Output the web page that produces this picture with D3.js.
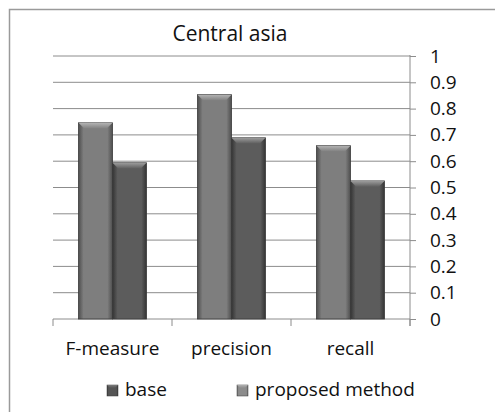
<!DOCTYPE html>
<html>
<head>
<meta charset="utf-8">
<script src="https://cdn.jsdelivr.net/npm/d3@7"></script>
<style>
  body { margin: 0; background: #fff; }
  text { font-family: "Open Sans", sans-serif; fill: #111; }
</style>
</head>
<body>
<div id="chart"></div>
<script>
// chart data
const categories = ["F-measure", "precision", "recall"];
const seriesNames = ["base", "proposed method"];
const baseValues = [0.746, 0.853, 0.659];
const proposedValues = [0.594, 0.689, 0.525];
const tickValues = [0, 0.1, 0.2, 0.3, 0.4, 0.5, 0.6, 0.7, 0.8, 0.9, 1];

const W = 495, H = 412;
const margin = {top: 56, right: 85, bottom: 93, left: 53};
const width = W - margin.left - margin.right;
const height = H - margin.top - margin.bottom;

const svg = d3.select("#chart").append("svg")
    .attr("width", W)
    .attr("height", H);

// gradients for the bevelled bars
const defs = svg.append("defs");
const palette = {
    "base": {edge: "#4e4e4e", mid: "#7e7e7e", top: "#b4b4b4"},
    "proposed method": {edge: "#343434", mid: "#5c5c5c", top: "#9c9c9c"}
};
// legend swatches look the other way round in the picture
const legendPalette = [
    {edge: "#3a3a3a", mid: "#555555", top: "#7a7a7a"},
    {edge: "#6a6a6a", mid: "#8c8c8c", top: "#b0b0b0"}
];
function addGradients(id, c) {
    let gr = defs.append("linearGradient").attr("id", "body" + id)
        .attr("x1", 0).attr("x2", 1).attr("y1", 0).attr("y2", 0);
    gr.append("stop").attr("offset", "0%").attr("stop-color", c.edge);
    gr.append("stop").attr("offset", "15%").attr("stop-color", c.mid);
    gr.append("stop").attr("offset", "85%").attr("stop-color", c.mid);
    gr.append("stop").attr("offset", "100%").attr("stop-color", c.edge);
    let t = defs.append("linearGradient").attr("id", "top" + id)
        .attr("x1", 0).attr("x2", 0).attr("y1", 0).attr("y2", 1);
    t.append("stop").attr("offset", "0%").attr("stop-color", c.top);
    t.append("stop").attr("offset", "100%").attr("stop-color", c.mid);
}
seriesNames.forEach((s, i) => addGradients(i, palette[s]));
legendPalette.forEach((c, i) => addGradients("L" + i, c));

// outer frame
svg.append("path")
    .attr("d", `M9.5,${H} V9.5 H${W}`)
    .attr("fill", "none")
    .attr("stroke", "#9a9a9a")
    .attr("stroke-width", 1.5);

const g = svg.append("g")
    .attr("transform", `translate(${margin.left}, ${margin.top})`);

// scales
const x = d3.scaleBand().domain(categories).range([0, width]).padding(0);
const xs = d3.scaleBand().domain(seriesNames).range([0, x.bandwidth()])
    .paddingInner(0).paddingOuter(0.75);
const y = d3.scaleLinear().domain([0, 1]).range([height, 0]);

// gridlines
g.append("g").attr("class", "grid")
    .selectAll("line")
    .data(tickValues.slice(1))
    .enter().append("line")
    .attr("x1", 0).attr("x2", width)
    .attr("y1", d => y(d)).attr("y2", d => y(d))
    .attr("stroke", "#8c8c8c").attr("stroke-width", 1);

// right axis
const yAxis = d3.axisRight(y).tickValues(tickValues).tickSize(6).tickPadding(14)
    .tickFormat(d => d3.format("")(+d.toFixed(1)));
const ya = g.append("g")
    .attr("class", "y-axis")
    .attr("transform", `translate(${width}, 0)`)
    .call(yAxis);
ya.select(".domain").attr("stroke", "#8c8c8c").attr("d", `M0,-1V${height + 7}`);
ya.selectAll(".tick line").attr("stroke", "#8c8c8c");
ya.selectAll(".tick text").style("font-size", "19px").attr("fill", "#111");

// bottom axis with ticks between categories
const xa = g.append("g")
    .attr("transform", `translate(0, ${height})`);
xa.append("line").attr("x1", 0).attr("x2", width).attr("y1", 0).attr("y2", 0)
    .attr("stroke", "#8c8c8c");
xa.selectAll(".sep")
    .data(d3.range(categories.length + 1))
    .enter().append("line")
    .attr("x1", i => i * x.step()).attr("x2", i => i * x.step())
    .attr("y1", 0).attr("y2", 7)
    .attr("stroke", "#8c8c8c");
xa.selectAll(".cat")
    .data(categories)
    .enter().append("text")
    .attr("x", d => x(d) + x.bandwidth() / 2)
    .attr("y", 36)
    .attr("text-anchor", "middle")
    .style("font-size", "19px")
    .text(d => d);

// bars
const rows = categories.map((c, i) => ({cat: c, values: [baseValues[i], proposedValues[i]]}));
const bevel = 6;
const groups = g.selectAll(".grp")
    .data(rows)
    .enter().append("g")
    .attr("transform", d => `translate(${x(d.cat)}, 0)`);

groups.each(function (row) {
    const grp = d3.select(this);
    seriesNames.forEach((s, i) => {
        const bx = xs(s), bw = xs.bandwidth();
        const by = y(row.values[i]), bh = height - by;
        grp.append("rect")
            .attr("x", bx).attr("y", by)
            .attr("width", bw).attr("height", bh)
            .attr("fill", `url(#body${i})`)
            .attr("stroke", "#3a3a3a").attr("stroke-width", 0.8);
        grp.append("path")
            .attr("d", `M${bx},${by} H${bx + bw} L${bx + bw - bevel},${by + bevel} H${bx + bevel} Z`)
            .attr("fill", `url(#top${i})`)
            .attr("stroke", "none");
    });
});

// title
svg.append("text")
    .attr("x", 230).attr("y", 41)
    .attr("text-anchor", "middle")
    .style("font-size", "21px")
    .text("Central asia");

// legend
const legendPos = [107, 237];
const legend = svg.selectAll(".legend")
    .data(seriesNames)
    .enter().append("g")
    .attr("transform", (d, i) => `translate(${legendPos[i]}, 385)`);
legend.append("rect")
    .attr("width", 11).attr("height", 11)
    .attr("fill", (d, i) => `url(#bodyL${i})`)
    .attr("stroke", "#3a3a3a").attr("stroke-width", 0.5);
legend.append("path")
    .attr("d", "M0,0 H11 L8,3 H3 Z")
    .attr("fill", (d, i) => `url(#topL${i})`);
legend.append("text")
    .attr("x", 18).attr("y", 11)
    .style("font-size", "19px")
    .text(d => d);
</script>
</body>
</html>
